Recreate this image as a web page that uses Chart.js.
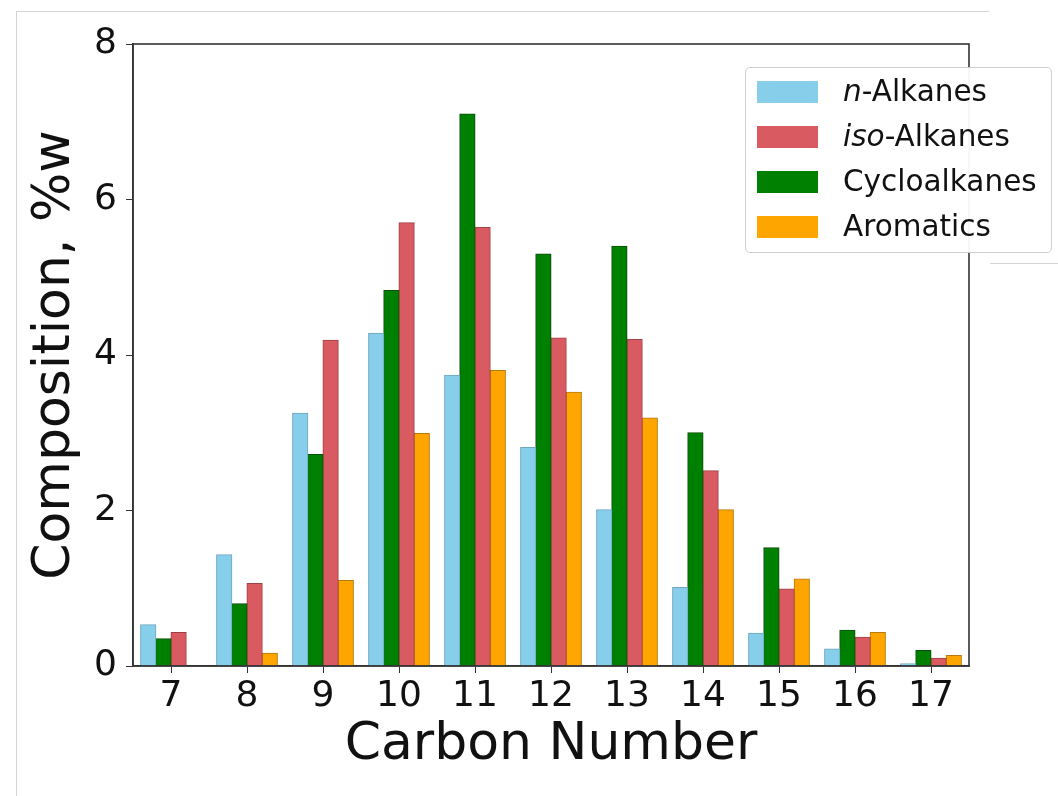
<!DOCTYPE html>
<html>
<head>
<meta charset="utf-8">
<script src="https://cdn.jsdelivr.net/npm/chart.js@4"></script>
<style>
  body { margin: 0; background: #fff; font-family: 'DejaVu Sans', sans-serif; }
  #wrap { position: relative; width: 1058px; height: 796px; }
  #frame { position: absolute; left: 16px; top: 11px; width: 972px; height: 790px;
           border-top: 1px solid #d4d4d4; border-left: 1px solid #d4d4d4; }
  #frame2 { position: absolute; left: 990px; top: 263px; width: 68px; border-top: 1px solid #d4d4d4; }
  #legend { position: absolute; left: 745px; top: 67px; width: 307px; height: 186px;
            box-sizing: border-box; border: 1px solid #cfcfcf; border-radius: 5px;
            background: rgba(255,255,255,0.95); padding-top: 1px; }
  .row { height: 45px; position: relative; font-size: 29.5px; color: #111; }
  .row .sw { position: absolute; left: 11px; top: 12px; width: 61px; height: 22px; }
  .row .tx { position: absolute; left: 97px; top: 0; line-height: 45px; white-space: nowrap; }
</style>
</head>
<body>
<div id="wrap">
  <div id="frame"></div>
  <div id="frame2"></div>
  <canvas id="myChart"></canvas>
  <div id="legend"></div>
</div>
<script>
let carbon = ['7', '8', '9', '10', '11', '12', '13', '14', '15', '16', '17'];
let nAlkanes = [0.53, 1.43, 3.25, 4.28, 3.74, 2.81, 2.01, 1.01, 0.42, 0.22, 0.03];
let cycloalkanes = [0.35, 0.80, 2.72, 4.83, 7.10, 5.30, 5.40, 3.00, 1.52, 0.46, 0.20];
let isoAlkanes = [0.43, 1.06, 4.19, 5.70, 5.64, 4.22, 4.20, 2.51, 0.99, 0.37, 0.10];
let aromatics = [0, 0.165, 1.10, 2.99, 3.80, 3.52, 3.19, 2.01, 1.12, 0.43, 0.135];
let yTicks = [0, 2, 4, 6, 8];

// bar order inside each group differs from legend order
let legendOrder = ['n-Alkanes', 'iso-Alkanes', 'Cycloalkanes', 'Aromatics'];

let frame = {
    id: 'frame',
    afterDatasetsDraw(chart) {
        let a = chart.chartArea;
        let c = chart.ctx;
        c.save();
        c.strokeStyle = '#333';
        c.lineWidth = 1.6;
        c.strokeRect(a.left, a.top, a.right - a.left, a.bottom - a.top);
        c.restore();
    }
};

let ctx = document.getElementById('myChart').getContext('2d');
let chart = new Chart(ctx, {
    type: 'bar',
    data: {
        labels: carbon,
        datasets: [
            { label: 'n-Alkanes', data: nAlkanes, backgroundColor: '#87ceeb', borderColor: '#6fa6bd' },
            { label: 'Cycloalkanes', data: cycloalkanes, backgroundColor: '#008000', borderColor: '#0b4d0b' },
            { label: 'iso-Alkanes', data: isoAlkanes, backgroundColor: '#d95b61', borderColor: '#9e4045' },
            { label: 'Aromatics', data: aromatics, backgroundColor: '#ffa500', borderColor: '#b77a10' }
        ]
    },
    options: {
        responsive: true,
        maintainAspectRatio: false,
        animation: false,
        layout: { padding: { top: 44, right: 89, left: 0, bottom: 0 } },
        datasets: {
            bar: {
                categoryPercentage: 0.8,
                barPercentage: 1.0,
                borderWidth: 1,
                inflateAmount: 0.5
            }
        },
        plugins: {
            legend: { display: false },
            tooltip: { enabled: false }
        },
        scales: {
            x: {
                grid: { offset: false, drawOnChartArea: false, drawTicks: true, tickLength: 7, color: '#333' },
                border: { color: '#333', width: 1.6 },
                ticks: { color: '#111', font: { family: 'DejaVu Sans', size: 36 }, padding: 2, maxRotation: 0 },
                title: { display: true, text: 'Carbon Number', color: '#111',
                         font: { family: 'DejaVu Sans', size: 52 }, padding: { top: 0, bottom: 19 } },
                afterFit(scale) { scale.height = 130; }
            },
            y: {
                min: 0,
                max: 8,
                afterBuildTicks(scale) { scale.ticks = yTicks.map(v => ({ value: v })); },
                grid: { drawOnChartArea: false, drawTicks: true, tickLength: 7, color: '#333' },
                border: { color: '#333', width: 1.6 },
                ticks: { color: '#111', font: { family: 'DejaVu Sans', size: 36 }, padding: 9 },
                title: { display: true, text: 'Composition, %w', color: '#111',
                         font: { family: 'DejaVu Sans', size: 52 }, padding: { top: 24, bottom: 0 } },
                afterFit(scale) { scale.width = 133; }
            }
        }
    },
    plugins: [frame]
});

// html legend, built from the chart datasets
let legendDiv = document.getElementById('legend');
legendOrder.forEach(name => {
    let ds = chart.data.datasets.find(d => d.label === name);
    let row = document.createElement('div');
    row.className = 'row';
    let sw = document.createElement('div');
    sw.className = 'sw';
    sw.style.background = ds.backgroundColor;
    let tx = document.createElement('div');
    tx.className = 'tx';
    let i = name.indexOf('-');
    if (i > 0) {
        let it = document.createElement('i');
        it.textContent = name.slice(0, i);
        tx.appendChild(it);
        tx.appendChild(document.createTextNode(name.slice(i)));
    } else {
        tx.textContent = name;
    }
    row.appendChild(sw);
    row.appendChild(tx);
    legendDiv.appendChild(row);
});
</script>
</body>
</html>
